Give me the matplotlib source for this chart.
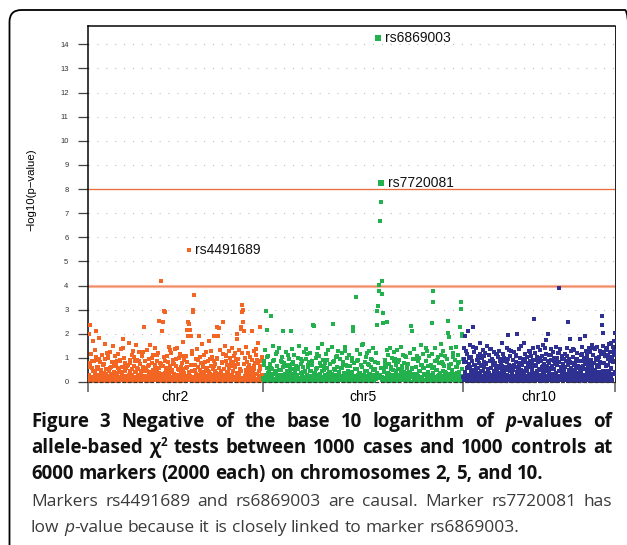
import matplotlib
matplotlib.use('Agg')
import matplotlib.pyplot as plt
import numpy as np
from matplotlib.patches import FancyBboxPatch
from matplotlib.transforms import IdentityTransform

# ---------------- data ----------------
chr_names = ['chr2', 'chr5', 'chr10']
chr_spans = [175, 200, 152]          # relative widths of the chromosome panels
chr_colors = ['#F26522', '#22B14C', '#2E3192']

# -log10(p) x 100, panel A markers in genomic order along each chromosome
chr2_logp_x100 = [
    8, 198, 31, 237, 77, 19, 115, 56, 12, 44, 168, 5, 88, 22, 37, 104, 210, 63, 1, 92,
    61, 4, 27, 183, 17, 83, 9, 48, 112, 21, 2, 71, 39, 14, 157, 96, 6, 53, 120, 24,
    13, 99, 45, 7, 126, 58, 18, 33, 2, 81, 149, 11, 67, 29, 23, 108, 5, 74, 16, 85,
    36, 10, 118, 52, 1, 20, 89, 43, 137, 15, 64, 7, 180, 101, 3, 79, 72, 12, 57, 22,
    5, 70, 24, 161, 14, 47, 93, 8, 31, 110, 19, 55, 2, 128, 66, 10, 40, 85, 17, 155,
    91, 16, 3, 54, 123, 28, 11, 75, 1, 46, 106, 20, 62, 8, 45, 230, 13, 87, 25, 59,
    22, 131, 9, 66, 40, 4, 97, 17, 152, 30, 12, 78, 1, 114, 51, 26, 7, 69, 140, 18,
    14, 86, 42, 3, 119, 60, 254, 21, 9, 73, 420, 35, 210, 250, 6, 102, 295, 290, 27, 50,
    3, 57, 109, 24, 13, 84, 38, 146, 7, 65, 19, 121, 49, 2, 92, 16, 76, 32, 11, 135,
    68, 20, 6, 143, 29, 52, 15, 98, 1, 117, 41, 10, 80, 23, 55, 164, 4, 37, 90, 12,
    25, 107, 9, 63, 216, 190, 250, 548, 240, 18, 216, 190, 71, 4, 129, 300, 290, 44, 360, 14,
    48, 2, 94, 17, 138, 30, 61, 190, 8, 103, 22, 79, 13, 35, 156, 5, 67, 20, 112, 41,
    11, 82, 26, 124, 3, 58, 46, 19, 170, 7, 95, 33, 15, 68, 105, 1, 53, 24, 87, 190,
    74, 18, 39, 5, 230, 97, 190, 12, 60, 27, 225, 9, 134, 44, 21, 81, 3, 250, 116, 16,
    29, 150, 6, 88, 113, 14, 72, 43, 2, 127, 56, 20, 99, 10, 65, 141, 31, 8, 84, 108,
    17, 62, 121, 4, 91, 38, 200, 180, 12, 76, 133, 23, 54, 7, 220, 230, 290, 320, 300, 250,
    210, 9, 98, 26, 145, 51, 15, 83, 1, 119, 36, 70, 19, 104, 6, 59, 24, 210, 42, 13,
    55, 21, 130, 3, 78, 111, 32, 14, 93, 8, 162, 47, 18, 66, 230, 11, 87, 27, 100, 5,
]
chr5_logp_x100 = [
    12, 88, 4, 131, 25, 296, 60, 217, 9, 107, 43, 18, 74, 2, 272, 55, 16, 149, 33, 7,
    93, 6, 38, 118, 14, 67, 21, 1, 142, 50, 11, 85, 27, 104, 3, 62, 210, 19, 79, 30,
    8, 125, 46, 15, 71, 2, 97, 23, 57, 210, 13, 136, 34, 5, 82, 20, 113, 41, 10, 66,
    28, 1, 101, 54, 17, 150, 7, 76, 39, 22, 89, 12, 64, 126, 3, 47, 18, 95, 31, 115,
    61, 14, 5, 83, 120, 26, 44, 9, 72, 19, 235, 2, 234, 37, 16, 99, 56, 11, 139, 24,
    4, 109, 35, 68, 13, 158, 21, 7, 91, 48, 1, 77, 117, 29, 15, 58, 8, 132, 42, 18,
    73, 20, 10, 146, 32, 240, 6, 86, 52, 14, 103, 25, 3, 63, 127, 17, 40, 9, 94, 11,
    16, 59, 122, 2, 81, 37, 13, 144, 22, 70, 5, 98, 45, 19, 110, 8, 65, 28, 1, 87,
    43, 230, 210, 15, 78, 24, 352, 7, 134, 54, 18, 92, 3, 36, 116, 11, 69, 21, 152, 6,
    158, 27, 9, 84, 13, 105, 47, 2, 73, 19, 128, 35, 6, 61, 96, 16, 22, 140, 50, 10,
    31, 82, 14, 119, 296, 235, 316, 1426, 404, 378, 669, 747, 827, 364, 420, 285, 245, 57, 5, 93,
    17, 64, 8, 250, 111, 38, 3, 76, 143, 20, 52, 12, 99, 29, 1, 87, 124, 15, 44, 70,
    9, 133, 26, 55, 2, 90, 18, 147, 41, 7, 67, 114, 23, 14, 80, 36, 102, 4, 59, 21,
    75, 11, 40, 6, 121, 19, 233, 210, 53, 1, 94, 28, 137, 16, 62, 8, 108, 33, 85, 24,
    13, 98, 47, 3, 154, 22, 71, 10, 118, 35, 58, 5, 86, 27, 17, 130, 42, 66, 1, 107,
    30, 72, 9, 115, 246, 379, 333, 20, 61, 139, 14, 48, 4, 92, 25, 103, 7, 77, 38, 156,
    19, 84, 2, 127, 45, 15, 68, 109, 6, 37, 96, 23, 254, 202, 188, 57, 11, 141, 74, 26,
    50, 8, 120, 34, 16, 91, 145, 3, 63, 21, 112, 79, 12, 43, 230, 333, 304, 200, 190, 97,
]
chr10_logp_x100 = [
    22, 96, 7, 140, 190, 35, 12, 81, 3, 117, 58, 210, 16, 73, 28, 152, 9, 64, 104, 41,
    14, 88, 50, 2, 230, 126, 19, 69, 31, 8, 143, 45, 92, 11, 57, 109, 24, 5, 77, 38,
    160, 26, 71, 13, 99, 4, 133, 47, 18, 84, 61, 1, 121, 36, 10, 75, 148, 22, 53, 15,
    6, 110, 39, 87, 20, 59, 137, 12, 2, 95, 29, 70, 16, 124, 43, 9, 80, 56, 115, 25,
    48, 17, 102, 5, 66, 130, 23, 89, 37, 11, 76, 160, 8, 54, 118, 27, 1, 93, 62, 19,
    85, 30, 4, 141, 58, 12, 97, 195, 21, 72, 106, 44, 15, 128, 3, 67, 34, 90, 18, 51,
    10, 123, 63, 26, 83, 7, 112, 40, 200, 16, 59, 135, 2, 78, 31, 99, 48, 14, 150, 22,
    69, 13, 94, 38, 160, 5, 81, 117, 24, 57, 1, 103, 45, 19, 74, 129, 9, 61, 33, 88,
    28, 106, 15, 73, 50, 139, 8, 91, 260, 36, 120, 3, 65, 21, 97, 44, 12, 82, 144, 18,
    55, 2, 131, 27, 86, 16, 62, 108, 39, 7, 153, 74, 20, 95, 47, 11, 118, 175, 68, 5,
    14, 200, 79, 42, 113, 9, 58, 136, 24, 90, 3, 67, 125, 33, 18, 101, 52, 6, 84, 147,
    37, 71, 12, 99, 4, 122, 390, 19, 83, 46, 138, 8, 60, 29, 107, 15, 76, 1, 94, 54,
    20, 115, 63, 7, 88, 35, 142, 248, 26, 70, 11, 97, 43, 180, 2, 59, 129, 17, 80, 32,
    104, 9, 48, 134, 22, 76, 14, 92, 57, 1, 119, 38, 68, 25, 87, 6, 180, 44, 111, 16,
    61, 30, 146, 12, 85, 4, 101, 53, 190, 21, 74, 127, 36, 9, 96, 18, 58, 140, 27, 79,
    8, 123, 42, 90, 15, 155, 66, 3, 110, 34, 78, 19, 135, 50, 11, 98, 145, 24, 71, 39,
    93, 17, 62, 128, 5, 84, 40, 116, 272, 237, 203, 29, 150, 13, 77, 106, 46, 2, 132, 68,
    25, 139, 71, 10, 112, 156, 44, 88, 125, 19, 162, 57, 103, 7, 145, 82, 130, 33, 168, 203,
]

# -log10(p) x 100, panel B markers (interleaved with panel A along each chromosome)
chr2_logp_x100_b = [
    5, 27, 61, 12, 0, 88, 19, 3, 44, 9, 131, 23, 15, 52, 7, 96, 28, 1, 37, 17,
    21, 2, 74, 14, 33, 8, 26, 118, 49, 11, 4, 63, 18, 29, 82, 6, 40, 13, 1, 24,
    10, 57, 3, 22, 91, 16, 35, 7, 140, 25, 12, 46, 2, 68, 19, 9, 30, 77, 14, 5,
    31, 13, 6, 102, 20, 42, 1, 59, 11, 27, 85, 4, 17, 36, 8, 123, 23, 50, 15, 2,
    7, 45, 18, 3, 71, 26, 12, 98, 0, 33, 21, 55, 9, 14, 112, 28, 5, 39, 16, 80,
    19, 3, 66, 24, 10, 38, 87, 1, 15, 53, 6, 29, 134, 13, 43, 22, 8, 75, 2, 30,
    12, 95, 27, 5, 48, 17, 1, 64, 21, 9, 106, 34, 14, 3, 58, 25, 81, 11, 40, 7,
    26, 10, 44, 115, 2, 19, 70, 13, 32, 6, 23, 93, 4, 51, 16, 37, 1, 62, 28, 18,
    3, 56, 15, 24, 86, 8, 41, 20, 127, 11, 30, 2, 67, 17, 47, 9, 22, 99, 5, 35,
    14, 31, 6, 79, 18, 1, 54, 26, 10, 108, 39, 4, 23, 60, 12, 27, 83, 7, 45, 20,
    8, 69, 22, 2, 36, 15, 97, 29, 5, 46, 13, 120, 18, 0, 73, 25, 11, 41, 3, 57,
    24, 4, 49, 16, 90, 31, 9, 65, 21, 1, 138, 35, 13, 78, 7, 26, 52, 17, 104, 10,
]
chr5_logp_x100_b = [
    16, 72, 4, 29, 11, 103, 38, 1, 21, 58, 7, 25, 89, 13, 45, 2, 31, 124, 18, 9,
    3, 48, 20, 84, 12, 6, 35, 67, 27, 15, 111, 1, 42, 22, 8, 76, 14, 53, 30, 5,
    25, 9, 61, 17, 2, 96, 33, 13, 40, 7, 19, 137, 26, 4, 70, 11, 47, 23, 86, 1,
    12, 37, 5, 55, 28, 117, 16, 3, 79, 21, 8, 44, 14, 64, 30, 2, 92, 18, 34, 10,
    41, 1, 23, 13, 81, 6, 50, 27, 106, 15, 4, 36, 19, 58, 9, 24, 73, 11, 129, 29,
    7, 66, 14, 32, 3, 20, 99, 43, 10, 25, 52, 1, 17, 85, 28, 6, 39, 12, 62, 22,
    18, 4, 46, 26, 119, 11, 2, 69, 33, 15, 8, 91, 21, 5, 54, 13, 38, 30, 77, 16,
    28, 57, 9, 19, 1, 42, 74, 14, 24, 131, 6, 35, 12, 63, 3, 22, 48, 10, 95, 17,
    2, 31, 83, 13, 27, 7, 52, 20, 11, 40, 109, 16, 4, 68, 25, 9, 36, 1, 59, 23,
    35, 15, 6, 97, 18, 29, 3, 45, 12, 71, 22, 1, 56, 27, 10, 141, 19, 8, 33, 65,
    11, 26, 60, 4, 39, 14, 88, 2, 21, 50, 17, 31, 7, 113, 24, 13, 76, 5, 43, 19,
    23, 9, 34, 70, 1, 16, 47, 28, 102, 12, 6, 61, 20, 37, 3, 82, 15, 26, 10, 54,
]
chr10_logp_x100_b = [
    20, 84, 8, 41, 127, 15, 3, 63, 29, 11, 98, 24, 50, 6, 35, 145, 18, 72, 1, 27,
    13, 56, 31, 2, 90, 22, 117, 9, 44, 16, 68, 5, 25, 106, 37, 12, 79, 19, 4, 53,
    7, 33, 138, 21, 60, 14, 1, 87, 28, 47, 10, 74, 23, 3, 115, 39, 17, 58, 8, 95,
    26, 12, 65, 4, 36, 101, 19, 49, 2, 30, 82, 15, 131, 24, 7, 54, 11, 40, 93, 18,
    3, 71, 22, 109, 9, 42, 27, 1, 62, 16, 35, 150, 13, 80, 5, 46, 25, 88, 20, 10,
    45, 17, 6, 77, 30, 14, 123, 2, 57, 23, 92, 11, 38, 4, 69, 28, 8, 104, 19, 51,
    15, 99, 27, 9, 48, 1, 66, 21, 34, 140, 12, 59, 3, 26, 85, 18, 43, 7, 113, 24,
    31, 5, 55, 19, 89, 11, 37, 73, 2, 25, 14, 120, 46, 8, 64, 20, 96, 29, 4, 41,
    9, 62, 14, 32, 107, 24, 3, 50, 17, 83, 40, 6, 28, 135, 12, 70, 1, 44, 22, 97,
    36, 21, 86, 5, 57, 13, 39, 118, 26, 9, 67, 30, 2, 81, 16, 48, 110, 10, 33, 19,
    4, 75, 25, 52, 11, 143, 18, 35, 7, 91, 29, 1, 61, 15, 102, 42, 23, 8, 78, 31,
    17, 47, 3, 126, 27, 10, 68, 20, 94, 6, 38, 14, 156, 24, 53, 2, 85, 32, 112, 43,
]

hit_labels = ['rs4491689', 'rs6869003', 'rs7720081']
hit_chrom = ['chr2', 'chr5', 'chr5']
hit_index = [207, 207, 212]      # index into the panel A list of that chromosome

thresholds = [4, 8]
y_ticks = list(range(0, 15))

# ---------------- figure ----------------
W, H, DPI = 627, 545, 100
fig = plt.figure(figsize=(W / DPI, H / DPI), dpi=DPI)
fig.patch.set_facecolor('white')
PX = 72.0 / DPI  # points per pixel

ax = fig.add_axes([88 / W, 1 - 382 / H, (615 - 88) / W, (382 - 26) / H])
ax.set_facecolor('white')

set_a = [chr2_logp_x100, chr5_logp_x100, chr10_logp_x100]
set_b = [chr2_logp_x100_b, chr5_logp_x100_b, chr10_logp_x100_b]
offset = 0.0
bounds = [0.0]
centers = []
positions = {}
for name, span, va_, vb_, col in zip(chr_names, chr_spans, set_a, set_b, chr_colors):
    va = np.asarray(va_, dtype=float) / 100.0
    vb = np.asarray(vb_, dtype=float) / 100.0
    xa = offset + (np.arange(len(va)) + 0.5) * span / len(va)
    xb = offset + (np.arange(len(vb)) + 0.25) * span / len(vb)
    positions[name] = (xa, va)
    x = np.concatenate([xb, xa])
    v = np.concatenate([vb, va])
    small = v < 4
    mid = (v >= 4) & (v < 8)
    big = v >= 8
    ax.scatter(x[small], v[small], s=(3.3 * PX) ** 2, marker='s', c=col,
               linewidths=0, zorder=3)
    ax.scatter(x[mid], v[mid], s=(4.2 * PX) ** 2, marker='s', c=col,
               linewidths=0, zorder=4)
    ax.scatter(x[big], v[big], s=(6.3 * PX) ** 2, marker='s', c=col,
               linewidths=0, zorder=4)
    centers.append(offset + span / 2)
    offset += span
    bounds.append(offset)

total = offset

# hit labels
for lab, ch, idx in zip(hit_labels, hit_chrom, hit_index):
    x, v = positions[ch]
    ax.annotate(lab, (x[idx], v[idx]), xytext=(6.5 * PX, 0), textcoords='offset points',
                ha='left', va='center', fontsize=10, family='Liberation Sans',
                color='#111111', zorder=6)

# grid + threshold lines
for k in y_ticks[1:]:
    ax.axhline(k, color='#BDBDBD', lw=0.8, ls=(0, (1, 7)), zorder=1)
ax.axhline(thresholds[0], color='#F7B79E', lw=3.2 * PX, zorder=2)
ax.axhline(thresholds[0], color='#EF8A62', lw=1.0 * PX, zorder=2)
ax.axhline(thresholds[1], color='#E8703C', lw=1.3 * PX, zorder=2)

# dashed bottom axis line
ax.plot([0, total], [0, 0], color='#333333', lw=0.9, ls=(0, (3, 1.5)),
        clip_on=False, zorder=7)

ax.set_xlim(0, total)
ax.set_ylim(0, 14.76)

ax.set_xticks(bounds)
ax.set_xticklabels([])
ax.set_xticks(centers, minor=True)
ax.set_xticklabels(chr_names, minor=True, fontsize=10, family='Liberation Sans')
ax.tick_params(axis='x', which='major', length=10 * PX, width=2 * PX, color='#808080')
ax.tick_params(axis='x', which='minor', length=0, pad=5.5)

ax.set_yticks(y_ticks)
ax.set_yticklabels([str(t) for t in y_ticks], fontsize=5.5, family='Liberation Sans',
                   color='#333333')
ax.tick_params(axis='y', length=10.5 * PX, width=1.3 * PX, color='#444444', pad=6.5)

ax.spines['bottom'].set_visible(False)
ax.spines['left'].set_linewidth(1.5 * PX)
ax.spines['left'].set_color('black')
ax.spines['top'].set_linewidth(1.5 * PX)
ax.spines['top'].set_color('black')
ax.spines['right'].set_linewidth(1.0 * PX)
ax.spines['right'].set_color('#222222')

fig.text(31 / W, 1 - 190 / H, '\u2212log10(p\u2212value)', rotation=90, ha='center',
         va='center', fontsize=8.2, family='Liberation Sans', color='black')

# rounded frame
frame = FancyBboxPatch((9.5, -40), 627.5, 575, boxstyle='round,pad=0,rounding_size=12',
                       transform=IdentityTransform(), fill=False, ec='black', lw=1.3)
fig.add_artist(frame)

# ---------------- caption ----------------
cap_font = 'Open Sans'
styles = {
    'b': dict(weight='bold', style='normal', color='#111111'),
    'bi': dict(weight='bold', style='italic', color='#111111'),
    'r': dict(weight='normal', style='normal', color='#3a3a3a'),
    'ri': dict(weight='normal', style='italic', color='#3a3a3a'),
}

def words(text, st):
    return [[(w, st, False)] for w in text.split()]

line1 = words('Figure 3 Negative of the base 10 logarithm of', 'b') + \
    [[('p', 'bi', False), ('-values', 'b', False)]] + words('of', 'b')
line2 = words('allele-based', 'b') + [[('\u03c7', 'b', False), ('2', 'b', True)]] + \
    words('tests between 1000 cases and 1000 controls at', 'b')
line3 = words('6000 markers (2000 each) on chromosomes 2, 5, and 10.', 'b')
line4 = words('Markers rs4491689 and rs6869003 are causal. Marker rs7720081 has', 'r')
line5 = words('low', 'r') + [[('p', 'ri', False), ('-value', 'r', False)]] + \
    words('because it is closely linked to marker rs6869003.', 'r')

# (baseline px from top, justified?, words, group)
cap_lines = [(426.7, True, line1, 'b'), (453.0, True, line2, 'b'),
             (479.3, False, line3, 'b'), (506.5, True, line4, 'r'),
             (532.0, False, line5, 'r')]
X0, X1 = 31.0, 612.0
ref_end = {'b': 541.0, 'r': 516.0}    # right end of the unjustified line of each group

renderer = fig.canvas.get_renderer()

def seg_props(st, sup, fs):
    p = dict(styles[st])
    p['fontsize'] = fs * (0.62 if sup else 1.0)
    p['family'] = cap_font
    return p

def measure(s, st, sup, fs):
    t = fig.text(0, 0, s, transform=IdentityTransform(), **seg_props(st, sup, fs))
    w = t.get_window_extent(renderer=renderer).width
    t.remove()
    return w

def word_width(word, fs):
    return sum(measure(s, st, sup, fs) for s, st, sup in word)

def space_width(st, fs):
    return measure('n n', st, False, fs) - measure('nn', st, False, fs)

def natural(ws, fs):
    return sum(word_width(w, fs) for w in ws) + space_width(ws[0][0][1], fs) * (len(ws) - 1)

base_fs = 12.0
group_fs = {}
for y, just, ws, g in cap_lines:
    if not just:
        group_fs[g] = base_fs * (ref_end[g] - X0) / natural(ws, base_fs)
for y, just, ws, g in cap_lines:
    if just:
        nat = natural(ws, group_fs[g])
        if nat > (X1 - X0):
            group_fs[g] *= (X1 - X0) / nat * 0.99

for y, just, ws, g in cap_lines:
    fs = group_fs[g]
    widths = [word_width(w, fs) for w in ws]
    sp = space_width(ws[0][0][1], fs)
    if just:
        sp = ((X1 - X0) - sum(widths)) / (len(ws) - 1)
    x = X0
    for w, ww in zip(ws, widths):
        xs = x
        for s, st, sup in w:
            dy = 0.40 * fs / PX if sup else 0.0
            fig.text(xs, H - y + dy, s, transform=IdentityTransform(), ha='left',
                     va='baseline', **seg_props(st, sup, fs))
            xs += measure(s, st, sup, fs)
        x += ww + sp

fig.savefig('out.png', dpi=DPI, facecolor='white')
